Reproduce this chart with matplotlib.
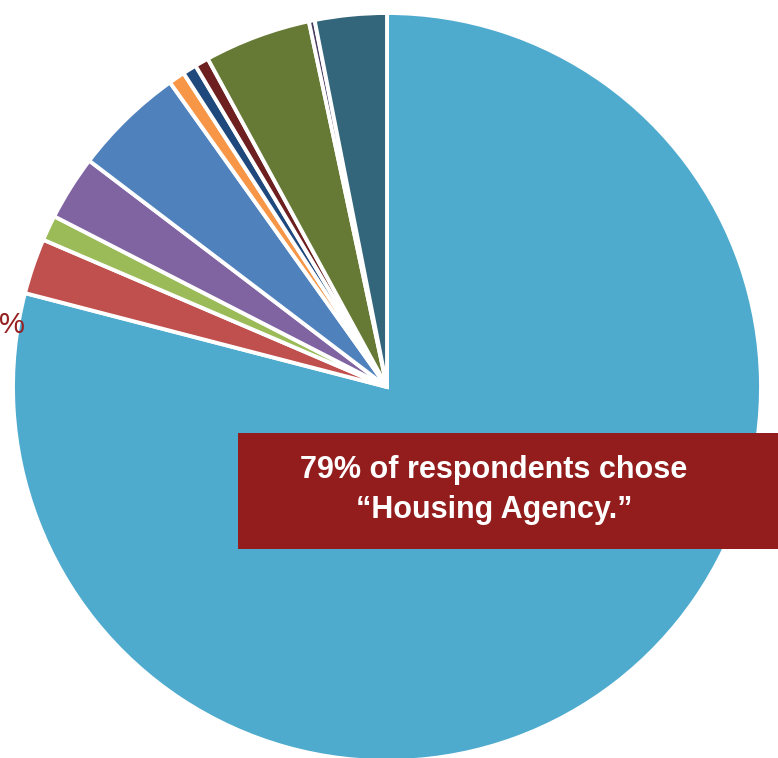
import matplotlib.pyplot as plt

# Respuestas por categoria (porcentaje)
categorias = ['Housing Agency', 'Cat 2', 'Cat 3', 'Cat 4', 'Cat 5', 'Cat 6',
              'Cat 7', 'Cat 8', 'Cat 9', 'Cat 10', 'Cat 11']
valores = [79.0, 2.4, 1.1, 2.8, 4.8, 0.7, 0.6, 0.6, 4.6, 0.25, 3.1]
cores = ['#4FABCE', '#C0504D', '#9BBB59', '#8064A2', '#4F81BD', '#F79646',
         '#1F497D', '#6E2020', '#667A35', '#4A3A60', '#33667B']

W, H = 778, 758
fig = plt.figure(figsize=(W / 100, H / 100), dpi=100)
ax = fig.add_axes([0, 0, 1, 1])

# Pizza com inicio no topo, sentido horario
ax.pie(valores,
       colors=cores,
       startangle=90,
       counterclock=False,
       center=(387, H - 387),
       radius=374,
       wedgeprops=dict(edgecolor='white', linewidth=2.8),
       frame=True)

ax.set_xlim(0, W)
ax.set_ylim(0, H)
ax.set_aspect('equal')
ax.set_axis_off()

# Rotulo na borda esquerda
ax.text(-1, H - 325, '%', color='#962020', fontsize=21,
        family='Liberation Sans', ha='left', va='center')

# Caixa de destaque
ax.add_patch(plt.Rectangle((238, H - 549), 560, 116,
                           facecolor='#931D1D', edgecolor='none', zorder=5))
ax.text(494, H - 490, '79% of respondents chose\n\u201cHousing Agency.\u201d',
        color='white', fontsize=22, fontweight='bold',
        family='Liberation Sans', ha='center', va='center',
        linespacing=1.45, zorder=6)

fig.savefig('out.png', dpi=100)
